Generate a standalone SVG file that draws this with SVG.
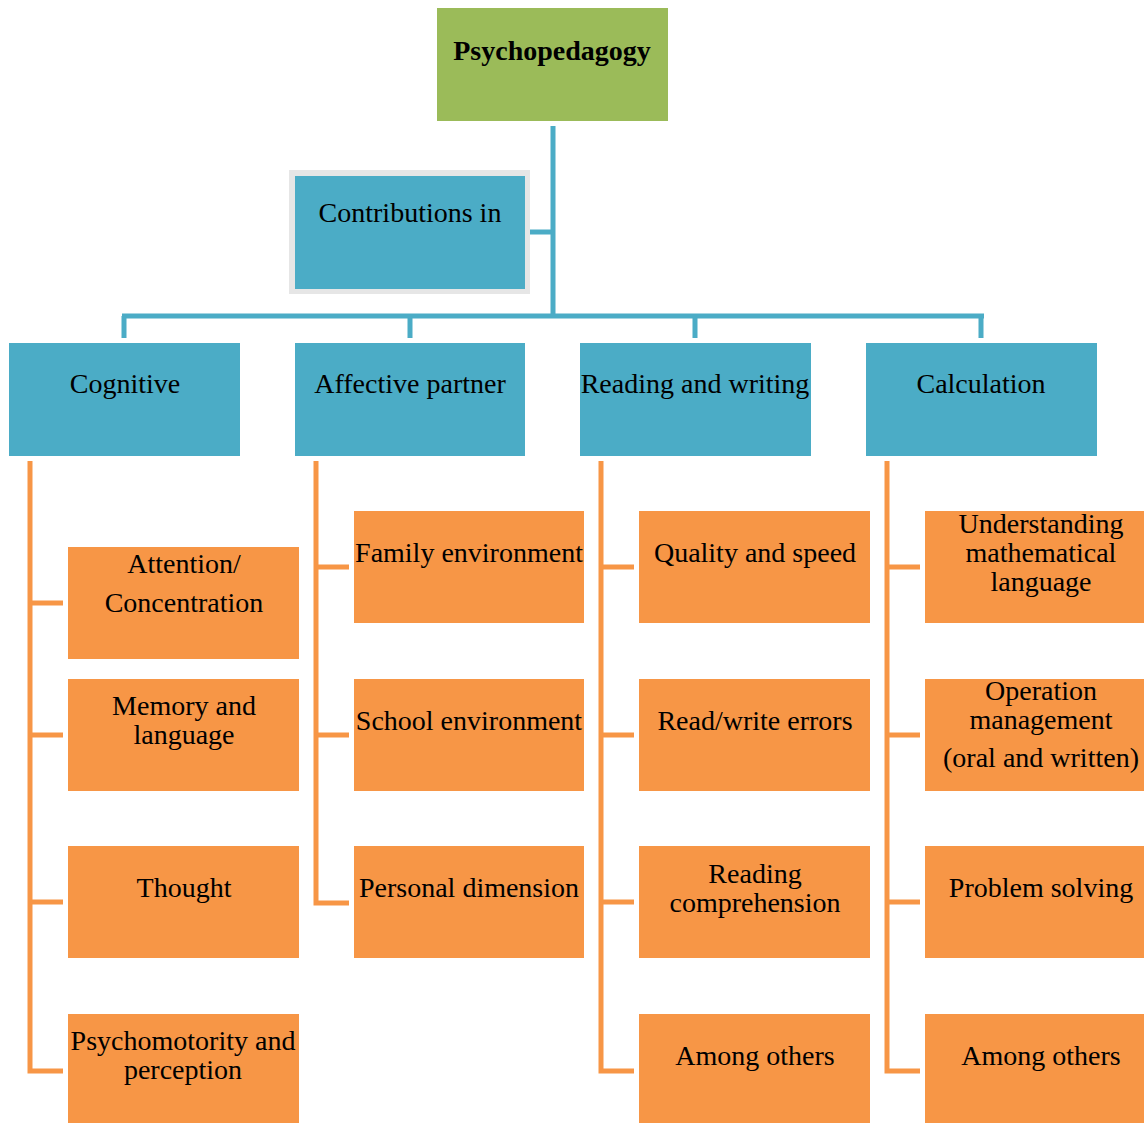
<svg xmlns="http://www.w3.org/2000/svg" width="1144" height="1123" viewBox="0 0 1144 1123">
<style>
text{font-family:"Liberation Serif","Times New Roman",serif;font-size:28px;fill:#000;text-anchor:middle}
.b{stroke:#4BACC6;stroke-width:5;fill:none}
.o{stroke:#F79646;stroke-width:5;fill:none}
.blue{fill:#4BACC6}
.org{fill:#F79646}
</style>
<rect width="1144" height="1123" fill="#fff"/>
<g id="connectors">
<path class="b" d="M553 126V316M530 232H553M122 316H984M124 316V338M410 316V338M695 316V338M981 316V338"/>
<path class="o" d="M30 461V1071H63M30 603H63M30 735H63M30 902H63"/>
<path class="o" d="M316 461V903H349M316 567H349M316 735H349"/>
<path class="o" d="M601 461V1071H634M601 567H634M601 735H634M601 902H634"/>
<path class="o" d="M887 461V1071H920M887 567H920M887 735H920M887 902H920"/>
</g>
<g id="psychopedagogy"><rect x="437" y="8" width="231" height="113" fill="#9BBB59"/><text x="552" y="60" font-weight="bold">Psychopedagogy</text></g>
<g id="contributions"><rect x="289" y="170" width="241" height="124" fill="#E6E6E6"/><rect x="295" y="176" width="230" height="113" class="blue"/><text x="410" y="222">Contributions in</text></g>
<g id="cognitive"><rect x="9" y="343" width="231" height="113" class="blue"/><text x="125" y="393">Cognitive</text></g>
<g id="affective"><rect x="295" y="343" width="230" height="113" class="blue"/><text x="410" y="393">Affective partner</text></g>
<g id="reading"><rect x="580" y="343" width="231" height="113" class="blue"/><text x="695" y="393">Reading and writing</text></g>
<g id="calculation"><rect x="866" y="343" width="231" height="113" class="blue"/><text x="981" y="393">Calculation</text></g>
<g id="attention"><rect x="68" y="547" width="231" height="112" class="org"/><text x="184" y="573">Attention/</text><text x="184" y="612">Concentration</text></g>
<g id="memory"><rect x="68" y="679" width="231" height="112" class="org"/><text x="184" y="715">Memory and</text><text x="184" y="744">language</text></g>
<g id="thought"><rect x="68" y="846" width="231" height="112" class="org"/><text x="184" y="897">Thought</text></g>
<g id="psychomotority"><rect x="68" y="1014" width="231" height="112" class="org"/><text x="183" y="1050">Psychomotority and</text><text x="183" y="1079">perception</text></g>
<g id="family"><rect x="354" y="511" width="230" height="112" class="org"/><text x="469" y="562">Family environment</text></g>
<g id="school"><rect x="354" y="679" width="230" height="112" class="org"/><text x="469" y="730">School environment</text></g>
<g id="personal"><rect x="354" y="846" width="230" height="112" class="org"/><text x="469" y="897">Personal dimension</text></g>
<g id="quality"><rect x="639" y="511" width="231" height="112" class="org"/><text x="755" y="562">Quality and speed</text></g>
<g id="errors"><rect x="639" y="679" width="231" height="112" class="org"/><text x="755" y="730">Read/write errors</text></g>
<g id="comprehension"><rect x="639" y="846" width="231" height="112" class="org"/><text x="755" y="883">Reading</text><text x="755" y="912">comprehension</text></g>
<g id="among1"><rect x="639" y="1014" width="231" height="112" class="org"/><text x="755" y="1065">Among others</text></g>
<g id="understanding"><rect x="925" y="511" width="231" height="112" class="org"/><text x="1041" y="533">Understanding</text><text x="1041" y="562">mathematical</text><text x="1041" y="591">language</text></g>
<g id="operation"><rect x="925" y="679" width="231" height="112" class="org"/><text x="1041" y="700">Operation</text><text x="1041" y="729">management</text><text x="1041" y="767">(oral and written)</text></g>
<g id="problem"><rect x="925" y="846" width="231" height="112" class="org"/><text x="1041" y="897">Problem solving</text></g>
<g id="among2"><rect x="925" y="1014" width="231" height="112" class="org"/><text x="1041" y="1065">Among others</text></g>
</svg>
